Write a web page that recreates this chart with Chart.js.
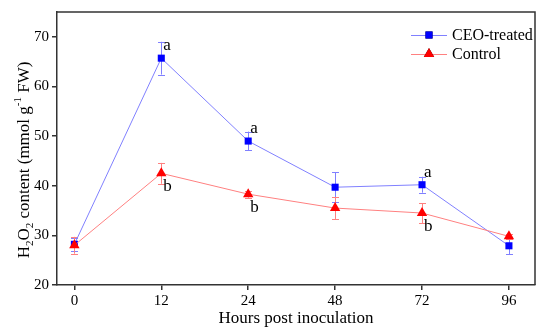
<!DOCTYPE html>
<html>
<head>
<meta charset="utf-8">
<script src="https://cdn.jsdelivr.net/npm/chart.js@4"></script>
<style>
  html, body { margin: 0; padding: 0; background: #fff; }
  #wrap { width: 550px; height: 333px; }
</style>
</head>
<body>
<div id="wrap"><canvas id="chart" width="550" height="333"></canvas></div>
<script>
// hours post inoculation (categories, drawn equally spaced)
const hours = ['0', '12', '24', '48', '72', '96'];
const ceoValues = [28.2, 65.7, 49.0, 39.7, 40.2, 27.9];
const ceoErrors = [1.3, 3.3, 1.9, 3.0, 1.6, 1.7];
const controlValues = [28.0, 42.5, 38.3, 35.5, 34.5, 29.8];
const controlErrors = [1.7, 2.1, 0.7, 2.2, 2.0, 0.5];
const ceoLetters = ['', 'a', 'a', '', 'a', ''];
const controlLetters = ['', 'b', 'b', '', 'b', ''];
const yTicks = [20, 30, 40, 50, 60, 70];

const SERIF = '"Liberation Serif", "Times New Roman", serif';
const AXIS = '#333';

const toPoints = vals => vals.map((v, i) => ({ x: i, y: v }));

// error bars (behind markers), significance letters, frame and legend
const extras = {
  id: 'extras',
  beforeDatasetsDraw(chart) {
    const ctx = chart.ctx;
    const xs = chart.scales.x, ys = chart.scales.y;
    const errs = [ceoErrors, controlErrors];
    ctx.save();
    chart.data.datasets.forEach((ds, di) => {
      ctx.strokeStyle = ds.borderColor;
      ctx.lineWidth = 1;
      ds.data.forEach((p, i) => {
        const px = Math.round(xs.getPixelForValue(p.x)) + 0.5;
        const top = ys.getPixelForValue(p.y + errs[di][i]);
        const bot = ys.getPixelForValue(p.y - errs[di][i]);
        ctx.beginPath();
        ctx.moveTo(px, top); ctx.lineTo(px, bot);
        ctx.moveTo(px - 3.5, Math.round(top) + 0.5); ctx.lineTo(px + 3.5, Math.round(top) + 0.5);
        ctx.moveTo(px - 3.5, Math.round(bot) + 0.5); ctx.lineTo(px + 3.5, Math.round(bot) + 0.5);
        ctx.stroke();
      });
    });
    ctx.restore();
  },
  afterDraw(chart) {
    const ctx = chart.ctx;
    const a = chart.chartArea;
    const xs = chart.scales.x, ys = chart.scales.y;
    ctx.save();
    // letters
    ctx.fillStyle = '#000';
    ctx.font = '17px ' + SERIF;
    ctx.textAlign = 'left';
    ctx.textBaseline = 'alphabetic';
    ceoValues.forEach((v, i) => {
      if (!ceoLetters[i]) return;
      ctx.fillText(ceoLetters[i], xs.getPixelForValue(i) + 2, ys.getPixelForValue(v) - 8);
    });
    controlValues.forEach((v, i) => {
      if (!controlLetters[i]) return;
      ctx.fillText(controlLetters[i], xs.getPixelForValue(i) + 2, ys.getPixelForValue(v) + 18);
    });
    // frame top & right
    ctx.strokeStyle = AXIS;
    ctx.lineWidth = 1.5;
    ctx.beginPath();
    ctx.moveTo(a.left, a.top);
    ctx.lineTo(a.right, a.top);
    ctx.lineTo(a.right, a.bottom);
    ctx.stroke();
    // legend
    const items = [
      { label: 'CEO-treated', ds: chart.data.datasets[0], y: 35, r: 5 },
      { label: 'Control', ds: chart.data.datasets[1], y: 54, r: 6 }
    ];
    items.forEach(it => {
      ctx.strokeStyle = it.ds.borderColor;
      ctx.lineWidth = 1;
      ctx.beginPath();
      ctx.moveTo(411, it.y + 0.5); ctx.lineTo(447, it.y + 0.5);
      ctx.stroke();
      Chart.helpers.drawPoint(ctx, { pointStyle: it.ds.pointStyle, radius: it.r, borderWidth: 0 }, 429, it.y);
      ctx.fillStyle = it.ds.pointBackgroundColor;
      ctx.fill();
      ctx.fillStyle = '#000';
      ctx.font = '16px ' + SERIF;
      ctx.textBaseline = 'middle';
      ctx.fillText(it.label, 452, it.y + 1);
    });
    // y axis title with sub/superscripts
    const parts = [
      ['H', 0], ['2', 1], ['O', 0], ['2', 1], [' content (mmol g', 0], ['-1', -1], [' FW)', 0]
    ];
    const big = '17px ' + SERIF, small = '11px ' + SERIF;
    let total = 0;
    parts.forEach(p => { ctx.font = p[1] ? small : big; total += ctx.measureText(p[0]).width; });
    ctx.translate(24, 160);
    ctx.rotate(-Math.PI / 2);
    ctx.textBaseline = 'alphabetic';
    let x = -total / 2;
    parts.forEach(p => {
      ctx.font = p[1] ? small : big;
      const dy = p[1] === 1 ? 4 : (p[1] === -1 ? -8 : 0);
      ctx.fillText(p[0], x, 5 + dy);
      x += ctx.measureText(p[0]).width;
    });
    ctx.restore();
  }
};

new Chart(document.getElementById('chart'), {
  type: 'line',
  data: {
    datasets: [
      {
        label: 'CEO-treated',
        data: toPoints(ceoValues),
        order: 1,
        borderColor: '#8080ff',
        borderWidth: 1,
        pointStyle: 'rect',
        pointRadius: 5,
        pointBorderWidth: 0,
        pointBackgroundColor: '#0000ff',
        pointBorderColor: '#0000ff',
        tension: 0
      },
      {
        label: 'Control',
        data: toPoints(controlValues),
        order: 0,
        borderColor: '#ff8080',
        borderWidth: 1,
        pointStyle: 'triangle',
        pointRadius: 6,
        pointBorderWidth: 0,
        pointBackgroundColor: '#ff0000',
        pointBorderColor: '#ff0000',
        tension: 0
      }
    ]
  },
  options: {
    responsive: false,
    animation: false,
    layout: { padding: { top: 10, right: 15, left: 0, bottom: 0 } },
    plugins: { legend: { display: false }, tooltip: { enabled: false } },
    scales: {
      x: {
        type: 'linear',
        min: -0.2,
        max: 5.3,
        afterBuildTicks: s => { s.ticks = hours.map((h, i) => ({ value: i })); },
        afterFit: s => { s.height = 48; },
        ticks: {
          callback: v => hours[v],
          color: '#000',
          font: { family: SERIF, size: 15 },
          padding: 2,
          maxRotation: 0
        },
        grid: { drawOnChartArea: false, tickLength: 5, color: AXIS, lineWidth: 1.5 },
        border: { color: AXIS, width: 1.5 },
        title: {
          display: true,
          text: 'Hours post inoculation',
          color: '#000',
          font: { family: SERIF, size: 17 },
          padding: { top: 0, bottom: 4 }
        }
      },
      y: {
        min: 20,
        max: 75,
        afterBuildTicks: s => { s.ticks = yTicks.map(v => ({ value: v })); },
        afterFit: s => { s.width = 57; },
        ticks: {
          color: '#000',
          font: { family: SERIF, size: 15 },
          padding: 3
        },
        grid: { drawOnChartArea: false, tickLength: 5, color: AXIS, lineWidth: 1.5 },
        border: { color: AXIS, width: 1.5 }
      }
    }
  },
  plugins: [extras]
});
</script>
</body>
</html>
